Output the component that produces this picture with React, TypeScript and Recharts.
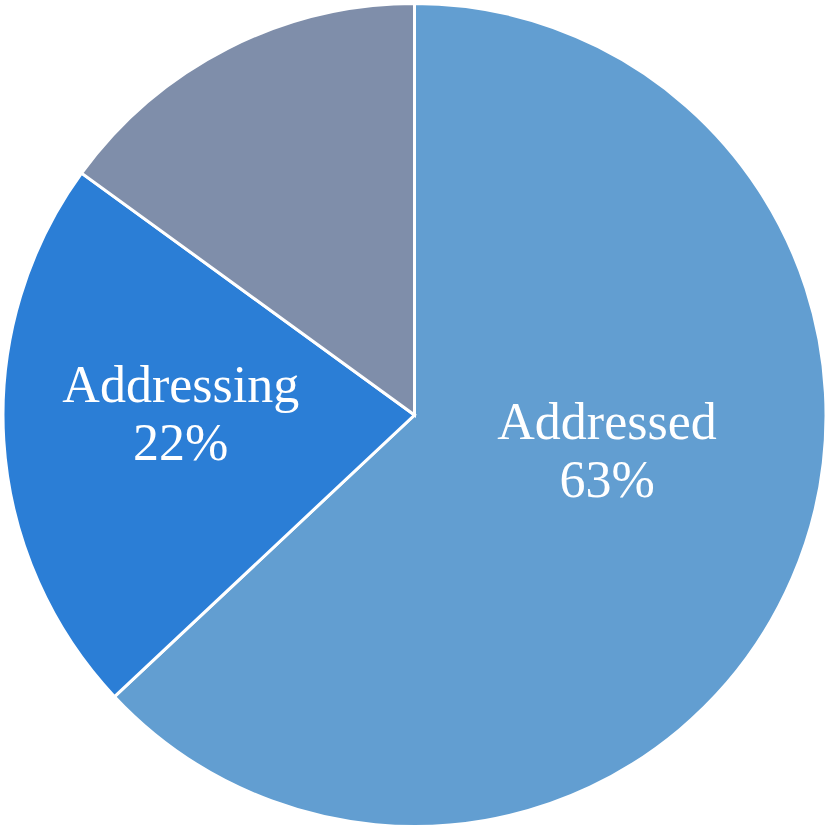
import { PieChart, Pie, Cell } from "recharts";

const categories = ["Addressed", "Addressing", "Not addressed"];
const shares = [63, 22, 15];
const colors = ["#629ED1", "#2B7ED6", "#7F8EAA"];
const showLabel = [true, true, false];

const data = categories.map((name, i) => ({ name, value: shares[i] }));

// label anchor offsets as a fraction of the radius (PowerPoint style placement)
const labelOffset: Record<string, [number, number]> = {
  Addressed: [0.468, 0.085],
  Addressing: [-0.568, -0.005],
};

const renderLabel = (props: any) => {
  const { cx, cy, outerRadius, index, name, value } = props;
  if (!showLabel[index]) return null;
  const [fx, fy] = labelOffset[name];
  const x = cx + fx * outerRadius;
  const y = cy + fy * outerRadius;
  return (
    <text
      x={x}
      y={y}
      fill="#fff"
      textAnchor="middle"
      fontFamily="'Liberation Serif', 'DejaVu Serif', serif"
      fontSize={52}
    >
      <tspan x={x} dy={-11}>{name}</tspan>
      <tspan x={x} dy={58}>{value}%</tspan>
    </text>
  );
};

export default function App() {
  return (
    <div style={{ position: "absolute", left: 0, top: 0, width: 827, height: 828, background: "#fff" }}>
      <PieChart width={827} height={828} margin={{ top: 0, right: 0, bottom: 0, left: 0 }}>
        <Pie
          data={data}
          dataKey="value"
          nameKey="name"
          cx={414.5}
          cy={415}
          outerRadius={411.5}
          startAngle={90}
          endAngle={-270}
          stroke="#fff"
          strokeWidth={3}
          label={renderLabel}
          labelLine={false}
          isAnimationActive={false}
        >
          {data.map((d, i) => (
            <Cell key={d.name} fill={colors[i]} />
          ))}
        </Pie>
      </PieChart>
    </div>
  );
}
